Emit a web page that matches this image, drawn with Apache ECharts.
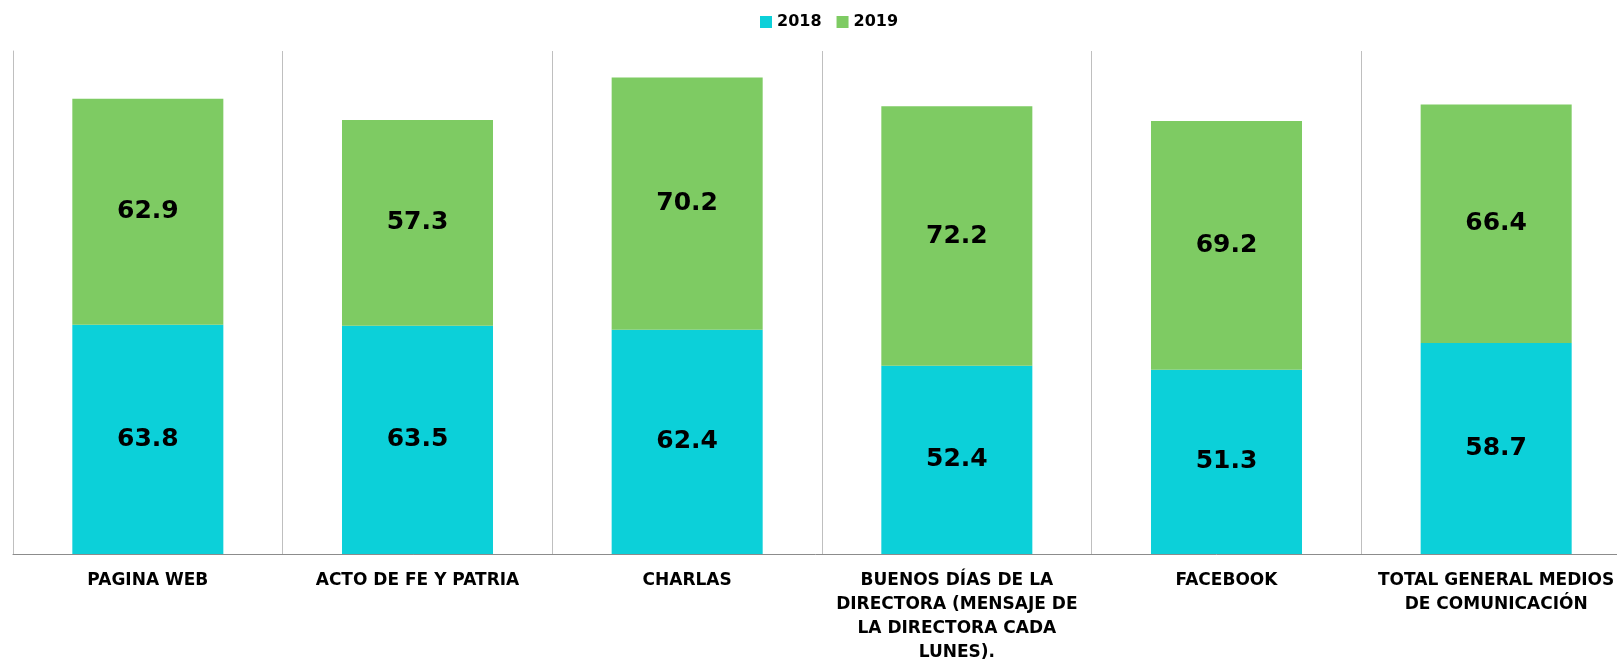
<!DOCTYPE html>
<html>
<head>
<meta charset="utf-8">
<script src="https://cdn.jsdelivr.net/npm/echarts@6/dist/echarts.min.js"></script>
<style>
  html, body { margin: 0; padding: 0; background: #fff; }
  #chart { width: 1617px; height: 665px; }
</style>
</head>
<body>
<div id="chart"></div>
<script>
// datos del gráfico
const categories = [
  'PAGINA WEB',
  'ACTO DE FE Y PATRIA',
  'CHARLAS',
  'BUENOS DÍAS DE LA\nDIRECTORA (MENSAJE DE\nLA DIRECTORA CADA\nLUNES).',
  'FACEBOOK',
  'TOTAL GENERAL MEDIOS\nDE COMUNICACIÓN'
]
const values2018 = [63.8, 63.5, 62.4, 52.4, 51.3, 58.7]
const values2019 = [62.9, 57.3, 70.2, 72.2, 69.2, 66.4]
const seriesNames = ['2018', '2019']

const font = 'DejaVu Sans'
const colors = ['#0cd0d9', '#7ecb63']

const chart = echarts.init(document.getElementById('chart'))

const barLabel = {
  show: true,
  position: 'inside',
  fontFamily: font,
  fontWeight: 'bold',
  fontSize: 25,
  color: '#000'
}

chart.setOption({
  animation: false,
  color: colors,
  legend: {
    top: 9,
    left: 755,
    itemWidth: 12,
    itemHeight: 12,
    itemGap: 15,
    icon: 'rect',
    textStyle: { fontFamily: font, fontWeight: 'bold', fontSize: 16, color: '#000' },
    data: seriesNames
  },
  // la rejilla continúa más allá del borde derecho (recortada en el original)
  grid: {
    left: 13,
    width: 1618,
    top: 51,
    bottom: 111,
    containLabel: false,
    outerBoundsMode: 'none'
  },
  xAxis: {
    type: 'category',
    data: categories,
    axisTick: { show: false },
    axisLine: { show: true, lineStyle: { color: '#8c8c8c', width: 1 } },
    splitLine: { show: true, lineStyle: { color: '#bfbfbf', width: 1 } },
    axisLabel: {
      interval: 0,
      margin: 15,
      fontFamily: font,
      fontWeight: 'bold',
      fontSize: 17,
      lineHeight: 24,
      color: '#000',
      align: 'center'
    }
  },
  yAxis: {
    type: 'value',
    min: 0,
    max: 140,
    axisLabel: { show: false },
    axisTick: { show: false },
    axisLine: { show: true, lineStyle: { color: '#bfbfbf', width: 1 } },
    splitLine: { show: false }
  },
  series: [
    {
      name: seriesNames[0],
      type: 'bar',
      stack: 'total',
      barWidth: '56%',
      data: values2018,
      label: barLabel
    },
    {
      name: seriesNames[1],
      type: 'bar',
      stack: 'total',
      barWidth: '56%',
      data: values2019,
      label: barLabel
    }
  ]
})
</script>
</body>
</html>
